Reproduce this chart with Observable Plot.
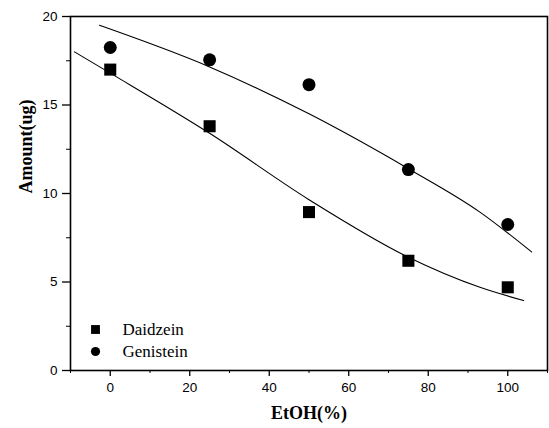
<!DOCTYPE html>
<html><head><meta charset="utf-8">
<script src="https://cdn.jsdelivr.net/npm/d3@7"></script>
<script src="https://cdn.jsdelivr.net/npm/@observablehq/plot@0.6"></script>
<style>body{margin:0;background:#fff}</style>
</head><body><div id="chart"></div>
<script>
const ethanol = [0, 25, 50, 75, 100];
const daidzein = [17.0, 13.8, 8.95, 6.2, 4.7];
const genistein = [18.25, 17.55, 16.15, 11.35, 8.25];
const daidzeinFitX = [-9, 0, 25, 50, 75, 93, 104];
const daidzeinFitY = [18.0, 16.8, 13.4, 9.65, 6.4, 4.7, 3.95];
const genisteinFitX = [-2.7, 25, 50, 75, 93, 106];
const genisteinFitY = [19.5, 17.15, 14.5, 11.4, 8.95, 6.7];
const xTicks = [0, 20, 40, 60, 80, 100];
const xMinor = [-10, 10, 30, 50, 70, 90, 110];
const yTicks = [0, 5, 10, 15, 20];
const yMinor = [2.5, 7.5, 12.5, 17.5];
const series = ["Daidzein", "Genistein"];
const xTitle = "EtOH(%)";
const yTitle = "Amount(ug)";

const dPts = ethanol.map((x, i) => ({x, y: daidzein[i]}));
const gPts = ethanol.map((x, i) => ({x, y: genistein[i]}));
const dFit = daidzeinFitX.map((x, i) => ({x, y: daidzeinFitY[i]}));
const gFit = genisteinFitX.map((x, i) => ({x, y: genisteinFitY[i]}));

const sans = "'Liberation Sans', Arial, sans-serif";
const serif = "'Liberation Serif', 'Times New Roman', serif";

const chart = Plot.plot({
  width: 549, height: 428,
  marginLeft: 70, marginRight: 2, marginTop: 16, marginBottom: 58,
  style: {background: "#fff", color: "#000"},
  x: {domain: [-10, 110]},
  y: {domain: [0, 20]},
  marks: [
    Plot.line(dFit, {x: "x", y: "y", curve: "monotone-x", stroke: "#000", strokeWidth: 1.1}),
    Plot.line(gFit, {x: "x", y: "y", curve: "monotone-x", stroke: "#000", strokeWidth: 1.1}),
    Plot.dot(dPts, {x: "x", y: "y", symbol: "square", r: 6.8, fill: "#000"}),
    Plot.dot(gPts, {x: "x", y: "y", symbol: "circle", r: 6.5, fill: "#000"}),
    Plot.frame({stroke: "#000", strokeWidth: 1.6}),
    Plot.axisX({ticks: xTicks, tickSize: 6, tickPadding: 6, fontSize: 13.5, fontFamily: sans, label: null, strokeWidth: 1.3}),
    Plot.axisX({ticks: xMinor, tickSize: 3, tickFormat: () => "", label: null}),
    Plot.axisY({ticks: yTicks, tickSize: 8, tickPadding: 5, fontSize: 13.5, fontFamily: sans, label: null, strokeWidth: 1.3}),
    Plot.axisY({ticks: yMinor, tickSize: 4, tickFormat: () => "", label: null}),
    Plot.text([xTitle], {frameAnchor: "bottom", dy: 43, text: d => d, fontFamily: serif, fontWeight: "bold", fontSize: 18, lineAnchor: "middle", fill: "#000"}),
    Plot.text([yTitle], {frameAnchor: "left", dx: -44, text: d => d, rotate: -90, fontFamily: serif, fontWeight: "bold", fontSize: 18, lineAnchor: "middle", fill: "#000"}),
    Plot.dot([series[0]], {frameAnchor: "bottom-left", dx: 25, dy: -41, symbol: "square", r: 5, fill: "#000"}),
    Plot.dot([series[1]], {frameAnchor: "bottom-left", dx: 25, dy: -19, symbol: "circle", r: 4.6, fill: "#000"}),
    Plot.text([series[0]], {frameAnchor: "bottom-left", dx: 52, dy: -41, text: d => d, textAnchor: "start", lineAnchor: "middle", fontFamily: serif, fontSize: 17, fill: "#000"}),
    Plot.text([series[1]], {frameAnchor: "bottom-left", dx: 52, dy: -19, text: d => d, textAnchor: "start", lineAnchor: "middle", fontFamily: serif, fontSize: 17, fill: "#000"})
  ]
});
document.getElementById("chart").appendChild(chart);
</script>
</body></html>
